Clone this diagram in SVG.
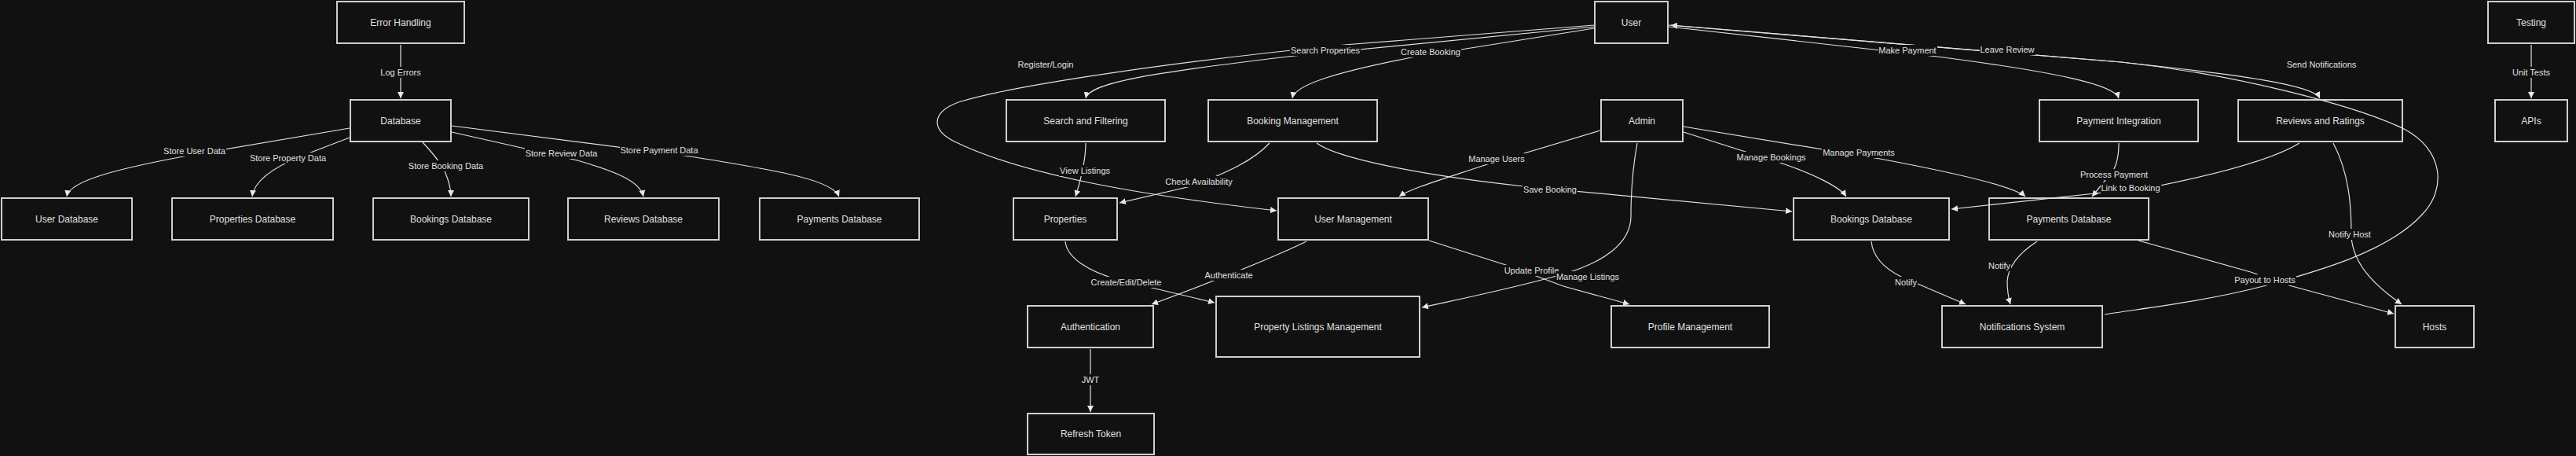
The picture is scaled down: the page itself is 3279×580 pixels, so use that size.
<svg xmlns="http://www.w3.org/2000/svg" width="3279" height="580" viewBox="0 0 3279 580">
<style>
.node rect{fill:#111111;stroke:#cfcfcf;stroke-width:2}
.node text{fill:#e0e0e0;font-family:"Liberation Sans",Arial,sans-serif;font-size:12px;text-anchor:middle}
.edges path{fill:none;stroke:#e2e2e2;stroke-width:1.2;marker-end:url(#arr)}
.lbl rect{fill:#111111}
.lbl text{fill:#e0e0e0;font-family:"Liberation Sans",Arial,sans-serif;font-size:11px;text-anchor:middle}
</style>
<defs>
<marker id="arr" viewBox="0 0 10 10" refX="10" refY="5" markerWidth="8" markerHeight="8" markerUnits="userSpaceOnUse" orient="auto"><path d="M0,0 L10,5 L0,10 z" fill="#e8e8e8"/></marker>
</defs>
<rect width="3279" height="580" fill="#111111"/>

<g id="n-error-handling" class="node"><rect x="429" y="2" width="162" height="53"/><text x="510" y="32.5">Error Handling</text></g>
<g id="n-database" class="node"><rect x="446" y="127" width="128" height="53"/><text x="510" y="157.5">Database</text></g>
<g id="n-user-database" class="node"><rect x="2" y="252" width="166" height="53"/><text x="85" y="282.5">User Database</text></g>
<g id="n-properties-database" class="node"><rect x="219" y="252" width="205" height="53"/><text x="321.5" y="282.5">Properties Database</text></g>
<g id="n-bookings-database-l" class="node"><rect x="475" y="252" width="198" height="53"/><text x="574" y="282.5">Bookings Database</text></g>
<g id="n-reviews-database" class="node"><rect x="723" y="252" width="192" height="53"/><text x="819" y="282.5">Reviews Database</text></g>
<g id="n-payments-database-l" class="node"><rect x="967" y="252" width="203" height="53"/><text x="1068.5" y="282.5">Payments Database</text></g>
<g id="n-user" class="node"><rect x="2030" y="2" width="93" height="53"/><text x="2076.5" y="32.5">User</text></g>
<g id="n-search" class="node"><rect x="1281" y="127" width="202" height="53"/><text x="1382" y="157.5">Search and Filtering</text></g>
<g id="n-booking-mgmt" class="node"><rect x="1538" y="127" width="215" height="53"/><text x="1645.5" y="157.5">Booking Management</text></g>
<g id="n-admin" class="node"><rect x="2038" y="127" width="104" height="53"/><text x="2090" y="157.5">Admin</text></g>
<g id="n-payment-integration" class="node"><rect x="2596" y="127" width="202" height="53"/><text x="2697" y="157.5">Payment Integration</text></g>
<g id="n-reviews" class="node"><rect x="2849" y="127" width="209" height="53"/><text x="2953.5" y="157.5">Reviews and Ratings</text></g>
<g id="n-testing" class="node"><rect x="3167" y="2" width="110" height="53"/><text x="3222" y="32.5">Testing</text></g>
<g id="n-apis" class="node"><rect x="3176" y="127" width="92" height="53"/><text x="3222" y="157.5">APIs</text></g>
<g id="n-properties" class="node"><rect x="1290" y="252" width="132" height="53"/><text x="1356" y="282.5">Properties</text></g>
<g id="n-user-mgmt" class="node"><rect x="1627" y="252" width="191" height="53"/><text x="1722.5" y="282.5">User Management</text></g>
<g id="n-bookings-database-r" class="node"><rect x="2283" y="252" width="198" height="53"/><text x="2382" y="282.5">Bookings Database</text></g>
<g id="n-payments-database-r" class="node"><rect x="2532" y="252" width="203" height="53"/><text x="2633.5" y="282.5">Payments Database</text></g>
<g id="n-authentication" class="node"><rect x="1308" y="389" width="160" height="53"/><text x="1388" y="419.5">Authentication</text></g>
<g id="n-property-listings" class="node"><rect x="1548" y="377" width="259" height="77"/><text x="1677.5" y="419.5">Property Listings Management</text></g>
<g id="n-profile-mgmt" class="node"><rect x="2051" y="389" width="201" height="53"/><text x="2151.5" y="419.5">Profile Management</text></g>
<g id="n-notifications" class="node"><rect x="2472" y="389" width="204" height="53"/><text x="2574" y="419.5">Notifications System</text></g>
<g id="n-hosts" class="node"><rect x="3049" y="389" width="100" height="53"/><text x="3099" y="419.5">Hosts</text></g>
<g id="n-refresh-token" class="node"><rect x="1308" y="526" width="161" height="52"/><text x="1388.5" y="556">Refresh Token</text></g>

<g id="connectors" class="edges">
<path d="M510,57 L510,125"/>
<path d="M445,163 L250,196 C150,214 88,230 85,250"/>
<path d="M445,175 L385,198 C345,214 323,232 321,250"/>
<path d="M538,181 C552,196 562,208 567,220 C572,232 574,242 574,250"/>
<path d="M575,168 L735,204 C790,220 815,232 819,250"/>
<path d="M575,160 L872,198 C1000,218 1060,230 1068,250"/>
<path d="M2029,32 L1711,57 C1500,78 1290,108 1220,130 C1185,143 1185,165 1215,180 C1300,222 1450,248 1625,268"/>
<path d="M2029,34 L1648,71 C1460,93 1386,106 1382,125"/>
<path d="M2029,36 L1797,73 C1700,92 1648,108 1645,125"/>
<path d="M2124,34 L2466,72 C2620,92 2692,108 2697,125"/>
<path d="M2124,32 L2700,79 C2850,95 2945,108 2953,125"/>
<path d="M2679,400 C2720,393 2800,385 2885,363 C2950,345 3040,320 3083,273 C3115,240 3110,190 3060,164 C3000,135 2850,95 2700,79 L2127,32"/>
<path d="M3222,57 L3222,125"/>
<path d="M1382,182 C1382,205 1376,228 1369,250"/>
<path d="M1616,182 C1590,210 1545,225 1520,236 L1425,258"/>
<path d="M1676,182 C1700,200 1800,222 1940,237 L2281,269"/>
<path d="M2037,166 L1890,210 C1830,230 1795,240 1781,250"/>
<path d="M2143,168 L2266,207 C2310,222 2342,238 2350,250"/>
<path d="M2143,161 L2393,202 C2500,222 2565,238 2578,250"/>
<path d="M2697,182 C2697,200 2693,212 2689,218 L2663,250"/>
<path d="M2927,182 C2890,205 2800,226 2740,238 L2484,266"/>
<path d="M2970,182 C2990,220 2993,260 2993,300 C2995,340 3030,368 3057,387"/>
<path d="M1663,307 C1620,328 1560,352 1466,387"/>
<path d="M1356,307 C1358,328 1385,345 1424,356 L1546,385"/>
<path d="M1819,306 L1923,339 L1990,364 L2074,387"/>
<path d="M2084,182 C2078,215 2076,250 2076,275 C2076,310 2040,335 1985,350 C1920,368 1860,380 1810,391"/>
<path d="M2382,307 C2384,328 2400,342 2420,352 L2502,387"/>
<path d="M2593,307 C2570,322 2556,340 2555,358 C2555,372 2557,380 2559,387"/>
<path d="M2722,306 L2865,346 L2910,362 L3047,399"/>
<path d="M1388,444 L1388,524"/>
</g>

<g id="edge-labels" class="lbl">
<rect x="482" y="85" width="56" height="14"/><text x="510" y="96">Log Errors</text>
<rect x="207" y="185" width="81" height="14"/><text x="247.5" y="196">Store User Data</text>
<rect x="317" y="194" width="99" height="14"/><text x="366.5" y="205">Store Property Data</text>
<rect x="519" y="204" width="97" height="14"/><text x="567.5" y="215">Store Booking Data</text>
<rect x="668" y="188" width="94" height="14"/><text x="714.5" y="199">Store Review Data</text>
<rect x="789" y="184" width="101" height="14"/><text x="839" y="195">Store Payment Data</text>
<rect x="1295" y="75" width="73" height="14"/><text x="1331" y="86">Register/Login</text>
<rect x="1642" y="57" width="90" height="14"/><text x="1687" y="68">Search Properties</text>
<rect x="1782" y="59" width="78" height="14"/><text x="1821" y="70">Create Booking</text>
<rect x="2391" y="57" width="75" height="14"/><text x="2428" y="68">Make Payment</text>
<rect x="2520" y="56" width="71" height="14"/><text x="2555" y="67">Leave Review</text>
<rect x="2910" y="75" width="91" height="14"/><text x="2955" y="86">Send Notifications</text>
<rect x="3196" y="85" width="52" height="14"/><text x="3222" y="96">Unit Tests</text>
<rect x="1348" y="210" width="66" height="14"/><text x="1381" y="221">View Listings</text>
<rect x="1482" y="224" width="88" height="14"/><text x="1526" y="235">Check Availability</text>
<rect x="1868" y="195" width="74" height="14"/><text x="1905" y="206">Manage Users</text>
<rect x="1938" y="234" width="70" height="14"/><text x="1973" y="245">Save Booking</text>
<rect x="2210" y="193" width="90" height="14"/><text x="2254.5" y="204">Manage Bookings</text>
<rect x="2319" y="187" width="94" height="14"/><text x="2366" y="198">Manage Payments</text>
<rect x="2647" y="215" width="88" height="14"/><text x="2691" y="226">Process Payment</text>
<rect x="2674" y="232" width="77" height="14"/><text x="2712" y="243">Link to Booking</text>
<rect x="2963" y="291" width="56" height="14"/><text x="2991" y="302">Notify Host</text>
<rect x="1533" y="343" width="63" height="14"/><text x="1564" y="354">Authenticate</text>
<rect x="1388" y="352" width="92" height="14"/><text x="1433.5" y="363">Create/Edit/Delete</text>
<rect x="1914" y="337" width="72" height="14"/><text x="1949.5" y="348">Update Profile</text>
<rect x="1980" y="345" width="82" height="14"/><text x="2021" y="356">Manage Listings</text>
<rect x="2411" y="352" width="30" height="14"/><text x="2426" y="363">Notify</text>
<rect x="2530" y="331" width="30" height="14"/><text x="2545" y="342">Notify</text>
<rect x="2843" y="349" width="80" height="14"/><text x="2883" y="360">Payout to Hosts</text>
<rect x="1375" y="476" width="26" height="14"/><text x="1388" y="487">JWT</text>
</g>
</svg>
